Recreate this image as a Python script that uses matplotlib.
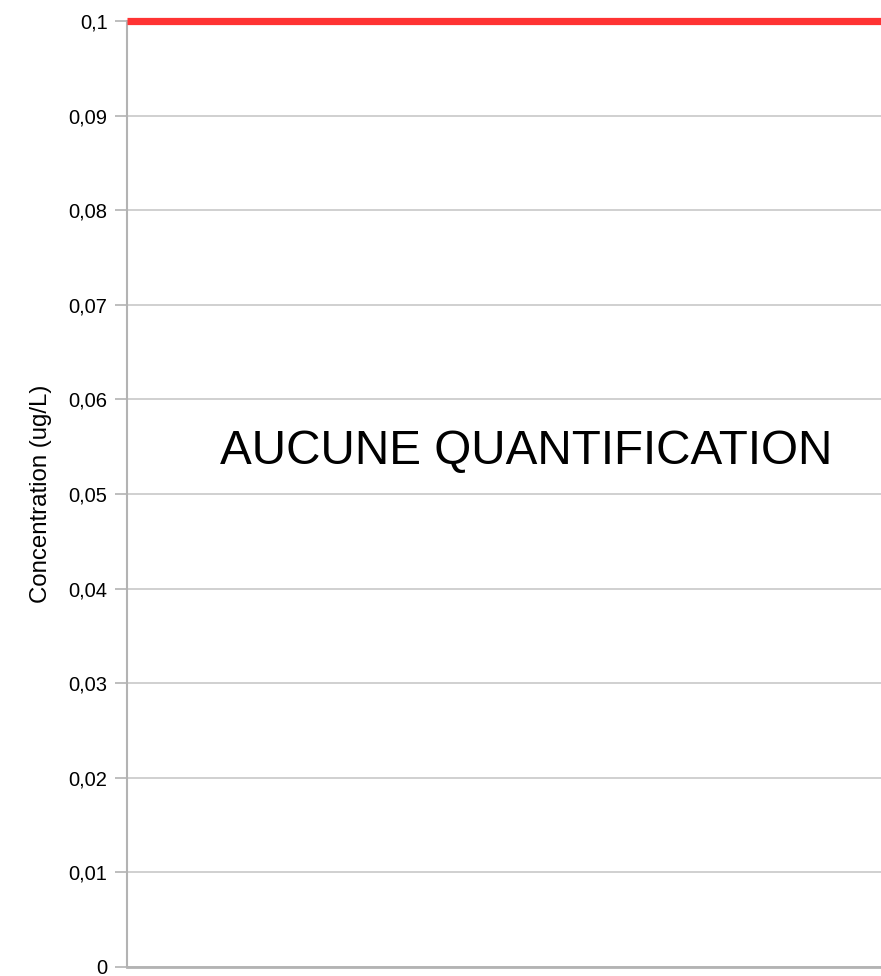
import matplotlib
matplotlib.use("Agg")
import matplotlib.pyplot as plt

# data
x_pos = [0, 1]
seuil = [0.1, 0.1]
y_ticks = [0, 0.01, 0.02, 0.03, 0.04, 0.05, 0.06, 0.07, 0.08, 0.09, 0.1]
y_labels = ["0", "0,01", "0,02", "0,03", "0,04", "0,05", "0,06", "0,07", "0,08", "0,09", "0,1"]
message = "AUCUNE QUANTIFICATION"

plt.rcParams['font.family'] = ['Liberation Sans', 'DejaVu Sans']

fig = plt.figure(figsize=(8.81, 9.76), dpi=100)
ax = fig.add_axes([127 / 881, 9 / 976, 1 - 127 / 881, 946 / 976])

ax.set_xlim(0, 1)
ax.set_ylim(0, 0.1)
ax.set_yticks(y_ticks)
ax.set_yticklabels(y_labels)
ax.set_xticks([])

ax.grid(axis='y', color='#c8c8c8', linewidth=1.2)
ax.set_axisbelow(True)
ax.axhline(0, color='#b3b3b3', linewidth=2, clip_on=False)

ax.plot(x_pos, seuil, color='#ff3333', linewidth=5.2, solid_capstyle='butt', clip_on=False, zorder=5)

for s in ['top', 'right', 'bottom']:
    ax.spines[s].set_visible(False)
ax.spines['left'].set_color('#b3b3b3')
ax.spines['left'].set_linewidth(1.5)

ax.tick_params(axis='y', length=9, width=1.2, color='#b3b3b3', pad=5, labelsize=14.5)
ax.set_ylabel("Concentration (ug/L)", fontsize=17.3, labelpad=12)

ax.text(0.529, 0.0545, message, fontsize=34.3, ha='center', va='center')

fig.savefig("out.png", dpi=100)
